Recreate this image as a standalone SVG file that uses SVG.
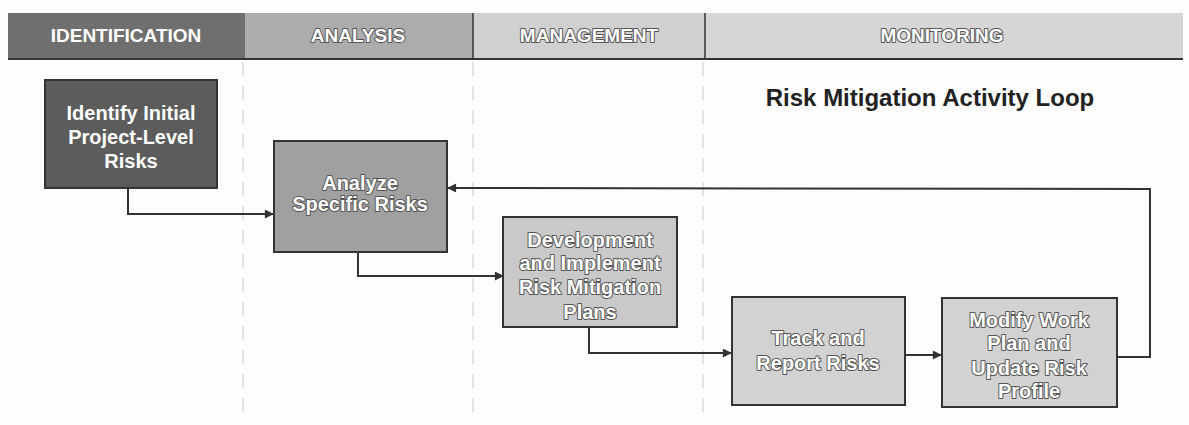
<svg xmlns="http://www.w3.org/2000/svg" width="1189" height="425" viewBox="0 0 1189 425">
  <defs>
    <style>
      .band-t { font-family: "Liberation Sans", Arial, sans-serif; font-weight: bold; font-size: 19px; text-anchor: middle; fill: #ffffff; }
      .emb { stroke: #555555; stroke-width: 2px; paint-order: stroke; stroke-linejoin: round; }
      .node { stroke: #333333; stroke-width: 2; }
      .nt { font-family: "Liberation Sans", Arial, sans-serif; font-weight: bold; font-size: 20px; text-anchor: middle; fill: #ffffff; }
      .conn { fill: none; stroke: #333333; stroke-width: 2; }
      .lane { stroke: #e3e3e3; stroke-width: 2; stroke-dasharray: 14 10; }
    </style>
    <marker id="arr" viewBox="0 0 10 10" refX="9" refY="5" markerWidth="11" markerHeight="9" markerUnits="userSpaceOnUse" orient="auto">
      <path d="M0,0 L10,5 L0,10 Z" fill="#333333"/>
    </marker>
  </defs>

  <rect x="0" y="0" width="1189" height="425" fill="#fdfdfd"/>

  <!-- lane separators -->
  <g id="lanes">
    <line class="lane" x1="243" y1="62" x2="243" y2="420"/>
    <line class="lane" x1="473" y1="62" x2="473" y2="420"/>
    <line class="lane" x1="703" y1="62" x2="703" y2="420"/>
  </g>

  <!-- header band -->
  <g id="header">
    <rect x="8" y="13" width="237" height="46" fill="#6f6f6f"/>
    <rect x="245" y="13" width="228" height="46" fill="#acacac"/>
    <rect x="473" y="13" width="232" height="46" fill="#d0d0d0"/>
    <rect x="705" y="13" width="478" height="46" fill="#d6d6d6"/>
    <line x1="8" y1="59" x2="1183" y2="59" stroke="#333333" stroke-width="2"/>
    <line x1="473" y1="13" x2="473" y2="59" stroke="#333333" stroke-width="1.5"/>
    <line x1="705" y1="13" x2="705" y2="59" stroke="#333333" stroke-width="1.5"/>
    <text class="band-t" x="126" y="42" font-size="20">IDENTIFICATION</text>
    <text class="band-t emb" x="358" y="42">ANALYSIS</text>
    <text class="band-t emb" x="589" y="42">MANAGEMENT</text>
    <text class="band-t emb" x="942" y="42">MONITORING</text>
  </g>

  <!-- title -->
  <text x="930" y="106" font-family="'Liberation Sans', Arial, sans-serif" font-weight="bold" font-size="24" fill="#222222" text-anchor="middle">Risk Mitigation Activity Loop</text>

  <!-- connectors -->
  <g id="connectors">
    <polyline class="conn" points="128,188 128,214 273,214" marker-end="url(#arr)"/>
    <polyline class="conn" points="358,252 358,276 503,276" marker-end="url(#arr)"/>
    <polyline class="conn" points="589,327 589,353 731,353" marker-end="url(#arr)"/>
    <polyline class="conn" points="905,355 941,355" marker-end="url(#arr)"/>
    <polyline class="conn" points="1117,357 1150,357 1150,189 448,188" marker-end="url(#arr)"/>
  </g>

  <!-- nodes -->
  <g id="node-identify">
    <rect class="node" x="45" y="80" width="172" height="108" fill="#5c5c5c"/>
    <text class="nt" x="131" y="120" font-size="21">Identify Initial</text>
    <text class="nt" x="131" y="144" font-size="21">Project-Level</text>
    <text class="nt" x="131" y="168" font-size="21">Risks</text>
  </g>

  <g id="node-analyze">
    <rect class="node" x="274" y="141" width="173" height="111" fill="#a0a0a0"/>
    <text class="nt emb" x="360" y="190">Analyze</text>
    <text class="nt emb" x="360" y="211">Specific Risks</text>
  </g>

  <g id="node-develop">
    <rect class="node" x="503" y="217" width="174" height="110" fill="#c9c9c9"/>
    <text class="nt emb" x="590" y="247">Development</text>
    <text class="nt emb" x="590" y="270">and Implement</text>
    <text class="nt emb" x="590" y="294">Risk Mitigation</text>
    <text class="nt emb" x="590" y="319">Plans</text>
  </g>

  <g id="node-track">
    <rect class="node" x="732" y="297" width="173" height="108" fill="#d2d2d2"/>
    <text class="nt emb" x="818" y="345">Track and</text>
    <text class="nt emb" x="818" y="370">Report Risks</text>
  </g>

  <g id="node-modify">
    <rect class="node" x="942" y="298" width="175" height="109" fill="#d2d2d2"/>
    <text class="nt emb" x="1029" y="327">Modify Work</text>
    <text class="nt emb" x="1029" y="350">Plan and</text>
    <text class="nt emb" x="1029" y="375">Update Risk</text>
    <text class="nt emb" x="1029" y="398">Profile</text>
  </g>
</svg>
